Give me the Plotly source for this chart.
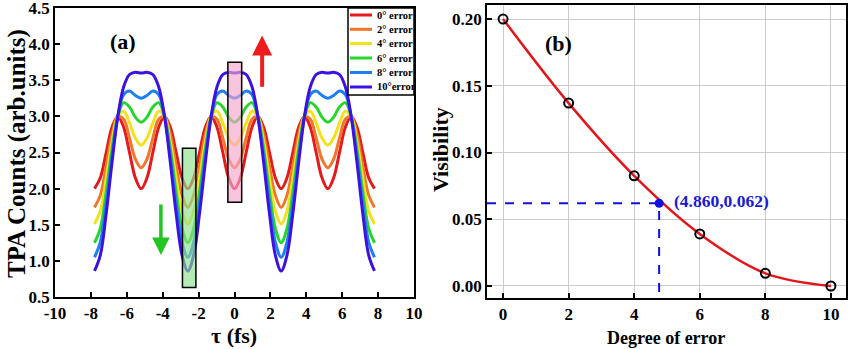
import plotly.graph_objects as go

# ---------------- data: panel (a) ----------------
tau = [-7.8, -7.475, -7.15, -6.825, -6.5, -6.175, -5.85, -5.525, -5.2, -4.875, -4.55, -4.225,
       -3.9, -3.575, -3.25, -2.925, -2.6, -2.275, -1.95, -1.625, -1.3, -0.975, -0.65, -0.325,
       0.0, 0.325, 0.65, 0.975, 1.3, 1.625, 1.95, 2.275, 2.6, 2.925, 3.25, 3.575, 3.9, 4.225,
       4.55, 4.875, 5.2, 5.525, 5.85, 6.175, 6.5, 6.825, 7.15, 7.475, 7.8]

err0 = [2.00, 2.15, 2.50, 2.85, 3.00, 2.85, 2.50, 2.15, 2.00, 2.15, 2.50, 2.85, 3.00, 2.85, 2.50, 2.15,
        2.00, 2.15, 2.50, 2.85, 3.00, 2.85, 2.50, 2.15, 2.00, 2.15, 2.50, 2.85, 3.00, 2.85, 2.50, 2.15,
        2.00, 2.15, 2.50, 2.85, 3.00, 2.85, 2.50, 2.15, 2.00, 2.15, 2.50, 2.85, 3.00, 2.85, 2.50, 2.15,
        2.00]
err2 = [1.74, 1.91, 2.31, 2.75, 3.00, 2.96, 2.70, 2.41, 2.29, 2.41, 2.70, 2.96, 3.00, 2.75, 2.31, 1.91,
        1.74, 1.91, 2.31, 2.75, 3.00, 2.96, 2.70, 2.41, 2.29, 2.41, 2.70, 2.96, 3.00, 2.75, 2.31, 1.91,
        1.74, 1.91, 2.31, 2.75, 3.00, 2.96, 2.70, 2.41, 2.29, 2.41, 2.70, 2.96, 3.00, 2.75, 2.31, 1.91,
        1.74]
err4 = [1.51, 1.69, 2.14, 2.65, 3.00, 3.07, 2.91, 2.70, 2.60, 2.70, 2.91, 3.07, 3.00, 2.65, 2.14, 1.69,
        1.51, 1.69, 2.14, 2.65, 3.00, 3.07, 2.91, 2.70, 2.60, 2.70, 2.91, 3.07, 3.00, 2.65, 2.14, 1.69,
        1.51, 1.69, 2.14, 2.65, 3.00, 3.07, 2.91, 2.70, 2.60, 2.70, 2.91, 3.07, 3.00, 2.65, 2.14, 1.69,
        1.51]
err6 = [1.25, 1.45, 1.95, 2.55, 3.00, 3.19, 3.13, 2.99, 2.92, 2.99, 3.13, 3.19, 3.00, 2.55, 1.95, 1.45,
        1.25, 1.45, 1.95, 2.55, 3.00, 3.19, 3.13, 2.99, 2.92, 2.99, 3.13, 3.19, 3.00, 2.55, 1.95, 1.45,
        1.25, 1.45, 1.95, 2.55, 3.00, 3.19, 3.13, 2.99, 2.92, 2.99, 3.13, 3.19, 3.00, 2.55, 1.95, 1.45,
        1.25]
err8 = [1.05, 1.26, 1.80, 2.45, 3.00, 3.30, 3.35, 3.29, 3.25, 3.29, 3.35, 3.30, 3.00, 2.45, 1.80, 1.26,
        1.05, 1.26, 1.80, 2.45, 3.00, 3.30, 3.35, 3.29, 3.25, 3.29, 3.35, 3.30, 3.00, 2.45, 1.80, 1.26,
        1.05, 1.26, 1.80, 2.45, 3.00, 3.30, 3.35, 3.29, 3.25, 3.29, 3.35, 3.30, 3.00, 2.45, 1.80, 1.26,
        1.05]
err10 = [0.86, 1.08, 1.65, 2.36, 3.00, 3.41, 3.58, 3.61, 3.60, 3.61, 3.58, 3.41, 3.00, 2.36, 1.65, 1.08,
         0.86, 1.08, 1.65, 2.36, 3.00, 3.41, 3.58, 3.61, 3.60, 3.61, 3.58, 3.41, 3.00, 2.36, 1.65, 1.08,
         0.86, 1.08, 1.65, 2.36, 3.00, 3.41, 3.58, 3.61, 3.60, 3.61, 3.58, 3.41, 3.00, 2.36, 1.65, 1.08,
         0.86]

series_a = [err0, err2, err4, err6, err8, err10]
legend_labels = ["0° error", "2° error", "4° error", "6° error", "8° error", "10°error"]
colors_a = ["#e41a1c", "#f2762a", "#f2e21e", "#27d62a", "#1f7ff0", "#3d12e0"]

xticks_a = [-10, -8, -6, -4, -2, 0, 2, 4, 6, 8, 10]
xticklabels_a = ["-10", "-8", "-6", "-4", "-2", "0", "2", "4", "6", "8", "10"]
yticks_a = [0.5, 1.0, 1.5, 2.0, 2.5, 3.0, 3.5, 4.0, 4.5]
yticklabels_a = ["0.5", "1.0", "1.5", "2.0", "2.5", "3.0", "3.5", "4.0", "4.5"]

# ---------------- data: panel (b) ----------------
degree = [0, 2, 4, 6, 8, 10]
visibility = [0.200, 0.137, 0.0825, 0.039, 0.0095, 0.0]
mark_x, mark_y = 4.76, 0.062
mark_label = "(4.860,0.062)"
xticks_b = [0, 2, 4, 6, 8, 10]
yticks_b = [0.0, 0.05, 0.10, 0.15, 0.20]
yticklabels_b = ["0.00", "0.05", "0.10", "0.15", "0.20"]

W, H = 850, 349
FONT = "Liberation Serif"


def px(x):
    return x / W


def py(y):
    return 1 - y / H


def bold(labels):
    return ["<b>%s</b>" % s for s in labels]


fig = go.Figure()

for vals, name, col in zip(series_a, legend_labels, colors_a):
    fig.add_trace(go.Scatter(x=tau, y=vals, mode="lines", name=name,
                             line=dict(color=col, width=3, shape="spline", smoothing=1.0),
                             xaxis="x", yaxis="y", showlegend=False))

fig.add_trace(go.Scatter(x=degree, y=visibility, mode="lines",
                         line=dict(color="#e3161b", width=2.5, shape="spline", smoothing=1.0),
                         xaxis="x2", yaxis="y2", showlegend=False))
fig.add_trace(go.Scatter(x=[-0.49, mark_x, mark_x], y=[mark_y, mark_y, -0.009], mode="lines",
                         line=dict(color="#1010e0", width=2, dash="dash"),
                         xaxis="x2", yaxis="y2", showlegend=False))
fig.add_trace(go.Scatter(x=degree, y=visibility, mode="markers",
                         marker=dict(symbol="circle-open", size=9, color="black",
                                     line=dict(width=2, color="black")),
                         xaxis="x2", yaxis="y2", showlegend=False))
fig.add_trace(go.Scatter(x=[mark_x], y=[mark_y], mode="markers",
                         marker=dict(symbol="circle", size=9, color="#1010e0"),
                         xaxis="x2", yaxis="y2", showlegend=False))

tickfont_a = dict(family=FONT, size=17, color="black")
tickfont_b = dict(family=FONT, size=17, color="black")

common = dict(ticks="inside", ticklen=5, tickwidth=1.5, tickcolor="black",
              showline=True, linecolor="black", linewidth=1.8, mirror=True,
              zeroline=False, automargin=False, ticklabeloverflow="allow")

fig.update_layout(
    template="none",
    width=W, height=H,
    margin=dict(l=0, r=0, t=0, b=0, pad=0),
    paper_bgcolor="white", plot_bgcolor="white",
    xaxis=dict(domain=[px(55), px(414)], range=[-10.001, 10.001], tickmode="array",
               tickvals=xticks_a, ticktext=bold(xticklabels_a),
               showgrid=False, tickfont=tickfont_a, anchor="y", **common),
    yaxis=dict(domain=[py(297), py(8)], range=[0.4995, 4.5005], tickmode="array",
               tickvals=yticks_a, ticktext=bold(yticklabels_a),
               showgrid=False, tickfont=tickfont_a, anchor="x", **common),
    xaxis2=dict(domain=[px(487), px(846)], range=[-0.49, 10.46], tickmode="array",
                tickvals=xticks_b, ticktext=bold([str(v) for v in xticks_b]),
                showgrid=True, gridcolor="#cccccc", gridwidth=1,
                tickfont=tickfont_b, anchor="y2", **common),
    yaxis2=dict(domain=[py(298), py(5)], range=[-0.009, 0.2105], tickmode="array",
                tickvals=yticks_b, ticktext=bold(yticklabels_b),
                showgrid=True, gridcolor="#cccccc", gridwidth=1,
                tickfont=tickfont_b, anchor="x2", **common),
    showlegend=False,
)

shapes = [
    dict(type="rect", xref="x", yref="y", x0=-0.37, x1=0.40, y0=1.81, y1=3.75,
         fillcolor="rgba(246,165,205,0.65)", line=dict(color="black", width=1.5), layer="above"),
    dict(type="rect", xref="x", yref="y", x0=-2.9, x1=-2.15, y0=0.63, y1=2.56,
         fillcolor="rgba(140,222,140,0.65)", line=dict(color="black", width=1.5), layer="above"),
    # legend frame
    dict(type="rect", xref="paper", yref="paper", x0=px(348), x1=px(414), y0=py(95), y1=py(8),
         fillcolor="white", line=dict(color="black", width=1.5), layer="above"),
]
annotations = []
row_y = [15, 29.3, 43.5, 58, 72.5, 87]
for ry, name, col in zip(row_y, legend_labels, colors_a):
    shapes.append(dict(type="line", xref="paper", yref="paper", x0=px(350), x1=px(372),
                       y0=py(ry), y1=py(ry), line=dict(color=col, width=3), layer="above"))
    annotations.append(dict(xref="paper", yref="paper", x=px(375), y=py(ry), text="<b>%s</b>" % name,
                            showarrow=False, xanchor="left", yanchor="middle",
                            font=dict(family=FONT, size=10.5, color="black")))

# arrows in panel (a)
annotations.append(dict(xref="x", yref="y", axref="x", ayref="y", x=1.54, y=4.12, ax=1.54, ay=3.39,
                        text="", showarrow=True, arrowhead=2, arrowsize=1, arrowwidth=4,
                        arrowcolor="#ee1c1c"))
annotations.append(dict(xref="x", yref="y", axref="x", ayref="y", x=-4.1, y=1.08, ax=-4.1, ay=1.8,
                        text="", showarrow=True, arrowhead=2, arrowsize=1, arrowwidth=3.5,
                        arrowcolor="#22c522"))
# panel labels
annotations.append(dict(xref="x", yref="y", x=-6.2, y=4.03, text="<b>(a)</b>", showarrow=False,
                        xanchor="center", yanchor="middle",
                        font=dict(family=FONT, size=22, color="black")))
annotations.append(dict(xref="x2", yref="y2", x=1.7, y=0.182, text="<b>(b)</b>", showarrow=False,
                        xanchor="center", yanchor="middle",
                        font=dict(family=FONT, size=22, color="black")))
annotations.append(dict(xref="x2", yref="y2", x=5.15, y=0.0635, text="<b>%s</b>" % mark_label,
                        showarrow=False, xanchor="left", yanchor="middle",
                        font=dict(family=FONT, size=17.5, color="#1a1ad2")))
# axis titles
annotations.append(dict(xref="paper", yref="paper", x=px(17), y=py(154),
                        text="<b>TPA Counts (arb.units)</b>", textangle=-90, showarrow=False,
                        xanchor="center", yanchor="middle",
                        font=dict(family=FONT, size=25, color="black")))
annotations.append(dict(xref="paper", yref="paper", x=px(234), y=py(335), text="<b>τ (fs)</b>",
                        showarrow=False, xanchor="center", yanchor="middle",
                        font=dict(family=FONT, size=22, color="black")))
annotations.append(dict(xref="paper", yref="paper", x=px(440), y=py(150), text="<b>Visibility</b>",
                        textangle=-90, showarrow=False, xanchor="center", yanchor="middle",
                        font=dict(family=FONT, size=22, color="black")))
annotations.append(dict(xref="paper", yref="paper", x=px(666), y=py(338), text="<b>Degree of error</b>",
                        showarrow=False, xanchor="center", yanchor="middle",
                        font=dict(family=FONT, size=18, color="black")))

fig.update_layout(shapes=shapes, annotations=annotations)
fig.write_html("out.html")
